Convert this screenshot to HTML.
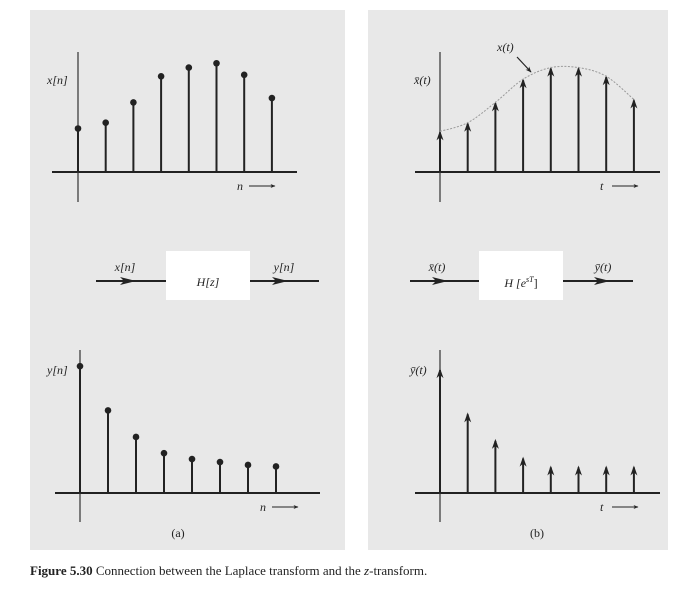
<!DOCTYPE html>
<html><head><meta charset="utf-8"><style>
body{margin:0;background:#fff;width:690px;height:590px;overflow:hidden}
svg{display:block}
text{font-family:"Liberation Serif",serif;fill:#222}
</style></head><body>
<svg width="690" height="590">
<defs>
<marker id="up" viewBox="0 0 10 10" refX="9" refY="5" markerWidth="5" markerHeight="5" orient="auto"><path d="M0,1L10,5L0,9L3,5Z" fill="#222"/></marker>
</defs>
<rect x="30" y="10" width="315" height="540" fill="#e8e8e8"/>
<rect x="368" y="10" width="300" height="540" fill="#e8e8e8"/>
<g id="plots"></g>
<g>
<line x1="96" y1="281" x2="166" y2="281" stroke="#222" stroke-width="2"/>
<path d="M120,277L136,281L120,285L124,281Z" fill="#222"/>
<line x1="250" y1="281" x2="319" y2="281" stroke="#222" stroke-width="2"/>
<path d="M272,277L288,281L272,285L276,281Z" fill="#222"/>
<rect x="166" y="251" width="84" height="49" fill="#fff"/>
<text x="208" y="286" font-size="12" font-style="italic" text-anchor="middle">H[z]</text>
<text x="125" y="271" font-size="12" font-style="italic" text-anchor="middle">x[n]</text>
<text x="284" y="271" font-size="12" font-style="italic" text-anchor="middle">y[n]</text>
</g>
<g>
<line x1="410" y1="281" x2="479" y2="281" stroke="#222" stroke-width="2"/>
<path d="M432,277L448,281L432,285L436,281Z" fill="#222"/>
<line x1="563" y1="281" x2="633" y2="281" stroke="#222" stroke-width="2"/>
<path d="M594,277L610,281L594,285L598,281Z" fill="#222"/>
<rect x="479" y="251" width="84" height="49" fill="#fff"/>
<text x="521" y="287" font-size="12" font-style="italic" text-anchor="middle">H [e<tspan font-size="8" dy="-5">sT</tspan><tspan dy="5" font-style="normal">]</tspan></text>
<text x="437" y="271" font-size="12" font-style="italic" text-anchor="middle">x̄(t)</text>
<text x="603" y="271" font-size="12" font-style="italic" text-anchor="middle">ȳ(t)</text>
</g>
<text x="47" y="84" font-size="12" font-style="italic">x[n]</text>
<text x="414" y="84" font-size="12" font-style="italic">x̄(t)</text>
<text x="497" y="51" font-size="12" font-style="italic">x(t)</text>
<line x1="517" y1="57" x2="531" y2="72" stroke="#222" stroke-width="1.2" marker-end="url(#up)"/>
<text x="47" y="374" font-size="12" font-style="italic">y[n]</text>
<text x="410" y="374" font-size="12" font-style="italic">ȳ(t)</text>
<text x="178" y="537" font-size="12" text-anchor="middle">(a)</text>
<text x="537" y="537" font-size="12" text-anchor="middle">(b)</text>
<text x="30" y="575" font-size="13"><tspan font-weight="bold">Figure 5.30</tspan>  Connection between the Laplace transform and the <tspan font-style="italic">z</tspan>-transform.</text>
</svg>
<script>
const xnValues=[1.5,1.7,2.4,3.3,3.6,3.75,3.35,2.55];
const xtValues=[1.4,1.7,2.4,3.2,3.6,3.6,3.3,2.5];
const ynValues=[4.3,2.8,1.9,1.35,1.15,1.05,0.95,0.9];
const ytValues=[4.2,2.7,1.8,1.2,0.9,0.9,0.9,0.9];
const NS="http://www.w3.org/2000/svg";
const g=document.getElementById('plots');
function mk(tag,attrs,parent){const e=document.createElementNS(NS,tag);for(const k in attrs)e.setAttribute(k,attrs[k]);(parent||g).appendChild(e);return e;}
function axes(x0,base,xl,xr,yt,yb,lab,name){
 const a=mk('g',{});
 
 
 mk('line',{x1:xl,y1:base,x2:xr,y2:base,stroke:'#222','stroke-width':2},a);
 mk('line',{x1:x0,y1:yt,x2:x0,y2:yb,stroke:'#333','stroke-width':1.2},a);
 const t=mk('text',{x:xr-60,y:base+18,'font-size':12,'font-style':'italic'},a);t.textContent=lab;
 mk('line',{x1:xr-48,y1:base+14,x2:xr-22,y2:base+14,stroke:'#222','stroke-width':1,'marker-end':'url(#up)'},a);
}
function stems(vals,x0,dx,base,scale,arrow,name){
 const ys=[];
 vals.forEach((v,i)=>{
  const x=x0+i*dx,y=base-v*scale;ys.push([x,y]);
  const l=mk('line',{x1:x,y1:base,x2:x,y2:arrow?y+1:y,stroke:'#222','stroke-width':2});
  
  
  if(arrow){const p=mk('path',{d:`M${x},${y-1}L${x+3.5},${y+9}L${x},${y+6}L${x-3.5},${y+9}Z`,fill:'#222'});
   
   }
  else{const c=mk('circle',{cx:x,cy:y,r:3.3,fill:'#222'});
   
   }
 });
 return ys;
}
axes(78,172,52,297,52,202,'n','x-n-axes');
stems(xnValues,78,27.7,172,29,false,'xn');
axes(440,172,415,660,52,202,'t','xbar-t-axes');
const pts=stems(xtValues,440,27.7,172,29,true,'xt');
let d=`M${pts[0][0]},${pts[0][1]}`;
for(let i=0;i<pts.length-1;i++){
 const p0=pts[Math.max(0,i-1)],p1=pts[i],p2=pts[i+1],p3=pts[Math.min(pts.length-1,i+2)];
 const c1x=p1[0]+(p2[0]-p0[0])/6,c1y=p1[1]+(p2[1]-p0[1])/6;
 const c2x=p2[0]-(p3[0]-p1[0])/6,c2y=p2[1]-(p3[1]-p1[1])/6;
 d+=` C${c1x},${c1y} ${c2x},${c2y} ${p2[0]},${p2[1]}`;
}
const cur=mk('path',{d:d,fill:'none',stroke:'#999','stroke-width':1,'stroke-dasharray':'2,1.5'});


axes(80,493,55,320,350,522,'n','y-n-axes');
stems(ynValues,80,28,493,29.5,false,'yn');
axes(440,493,415,660,350,522,'t','ybar-t-axes');
stems(ytValues,440,27.7,493,29.5,true,'yt');
</script>
</body></html>
